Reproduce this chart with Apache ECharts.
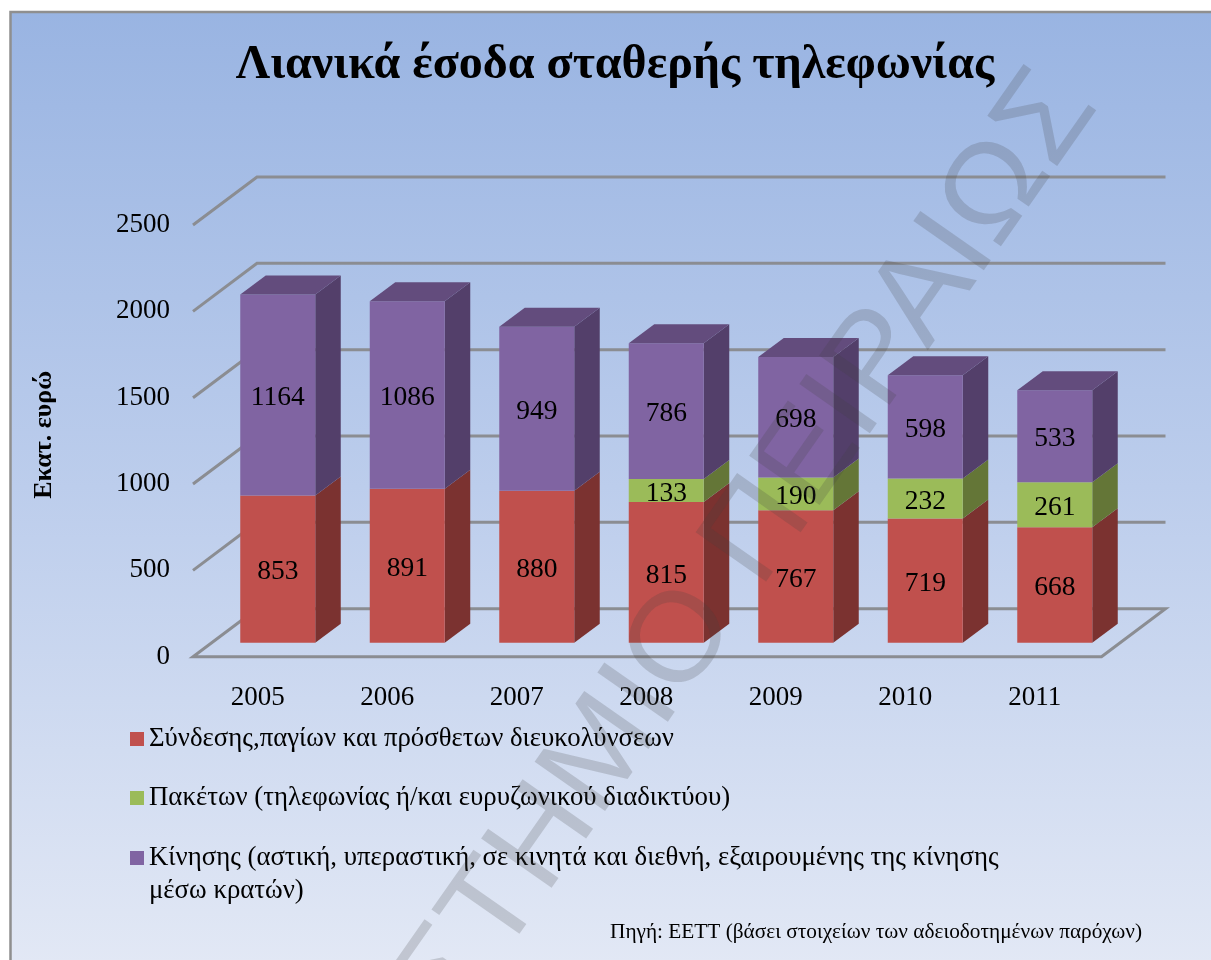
<!DOCTYPE html>
<html>
<head>
<meta charset="utf-8">
<title>Λιανικά έσοδα σταθερής τηλεφωνίας</title>
<script src="https://cdn.jsdelivr.net/npm/echarts@6/dist/echarts.min.js"></script>
<style>
    html, body { margin: 0; padding: 0; background: #fff; }
    #main { width: 1211px; height: 960px; }
</style>
</head>
<body>
<div id="main"></div>
<script>
// data
var years = ['2005', '2006', '2007', '2008', '2009', '2010', '2011'];
var connection = [853, 891, 880, 815, 767, 719, 668];
var packages = [0, 0, 0, 133, 190, 232, 261];
var traffic = [1164, 1086, 949, 786, 698, 598, 533];
var yTicks = [0, 500, 1000, 1500, 2000, 2500];

var connectionName = 'Σύνδεσης,παγίων και πρόσθετων διευκολύνσεων';
var packagesName = 'Πακέτων (τηλεφωνίας ή/και ευρυζωνικού διαδικτύου)';
var trafficName = 'Κίνησης (αστική, υπεραστική, σε κινητά και διεθνή, εξαιρουμένης της κίνησης';
var trafficNameLine2 = 'μέσω κρατών)';

var serif = '"Liberation Serif", "Times New Roman", serif';

// 3d look of the plot box and the bars, in px
var wallDx = 64, wallDy = -48;
var barShiftX = 20, barShiftY = -14;
var barWidth = 75, barDx = 25.5, barDy = -19;

var myChart = echarts.init(document.getElementById('main'));

// rows are [category index, stack start, value]
function stackRows(values, below) {
    return values.map(function (v, i) {
        var start = 0;
        below.forEach(function (b) { start += b[i]; });
        return [i, start, v];
    });
}

function barItem(sideColor, topColor) {
    return function (params, api) {
        var value = api.value(2);
        if (!value) return null;
        var i = api.value(0);
        var start = api.value(1);
        var low = api.coord([i, start]);
        var high = api.coord([i, start + value]);
        var x0 = low[0] + barShiftX - barWidth / 2;
        var x1 = x0 + barWidth;
        var y0 = low[1] + barShiftY;
        var y1 = high[1] + barShiftY;
        var children = [
            {
                type: 'polygon',
                shape: { points: [[x1, y0], [x1 + barDx, y0 + barDy], [x1 + barDx, y1 + barDy], [x1, y1]] },
                style: { fill: sideColor }
            },
            {
                type: 'rect',
                shape: { x: x0, y: y1, width: barWidth, height: y0 - y1 },
                style: { fill: api.visual('color') }
            }
        ];
        if (topColor) {
            children.push({
                type: 'polygon',
                shape: { points: [[x0, y1], [x1, y1], [x1 + barDx, y1 + barDy], [x0 + barDx, y1 + barDy]] },
                style: { fill: topColor }
            });
        }
        children.push({
            type: 'text',
            x: (x0 + x1) / 2,
            y: (y0 + y1) / 2 + 3,
            style: {
                text: String(value),
                fill: '#000',
                font: '27.5px ' + serif,
                textAlign: 'center',
                textVerticalAlign: 'middle'
            }
        });
        return { type: 'group', children: children };
    };
}

// the lines on the side wall and back wall for one tick
function wallItem(params, api) {
    var tick = api.value(0);
    var box = params.coordSys;
    var y = api.coord([0, tick])[1];
    var left = box.x;
    var right = box.x + box.width + 2;
    var lineStyle = { stroke: '#8b8d92', lineWidth: 3, fill: null };
    var points = [[left, y], [left + wallDx, y + wallDy], [right + wallDx, y + wallDy]];
    if (tick === 0) {
        points = [[left + wallDx, y + wallDy], [right + wallDx, y + wallDy], [right, y], [left, y], [left + wallDx, y + wallDy]];
    }
    return { type: 'polyline', shape: { points: points }, style: lineStyle };
}

function legendAt(name, top) {
    return {
        data: [name],
        left: 125,
        top: top,
        orient: 'vertical',
        selectedMode: false,
        icon: 'rect',
        itemWidth: 14,
        itemHeight: 14,
        textStyle: { fontFamily: serif, fontSize: 26.8, color: '#000' }
    };
}

var option = {
    animation: false,
    title: {
        text: 'Λιανικά έσοδα σταθερής τηλεφωνίας',
        left: 610,
        top: 37,
        textAlign: 'center',
        textStyle: { fontFamily: serif, fontSize: 48, fontWeight: 'bold', color: '#000' }
    },
    grid: { left: 193, top: 225, width: 906.5, height: 431.7 },
    xAxis: {
        type: 'category',
        data: years,
        axisLine: { show: false },
        axisTick: { show: false },
        axisLabel: { margin: 28, fontFamily: serif, fontSize: 27, color: '#000' }
    },
    yAxis: {
        type: 'value',
        min: 0,
        max: 2500,
        interval: 500,
        name: 'Εκατ. ευρώ',
        nameLocation: 'middle',
        nameGap: 136,
        nameRotate: 90,
        nameTextStyle: { fontFamily: serif, fontSize: 26, fontWeight: 'bold', color: '#000', padding: [0, 0, 0, 12] },
        axisLine: { show: false },
        axisTick: { show: false },
        splitLine: { show: false },
        axisLabel: {
            margin: 23,
            fontFamily: serif,
            fontSize: 27,
            color: '#000',
            padding: [6, 0, 0, 0],
            formatter: function (v) { return String(v); }
        }
    },
    legend: [
        legendAt(connectionName, 720.5),
        legendAt(packagesName, 779.5),
        legendAt(trafficName, 839.5)
    ],
    series: [
        {
            name: 'walls',
            type: 'custom',
            silent: true,
            renderItem: wallItem,
            encode: { y: 0 },
            data: yTicks.map(function (t) { return [t]; })
        },
        {
            name: connectionName,
            type: 'custom',
            itemStyle: { color: '#c0504d' },
            renderItem: barItem('#7b3230', null),
            encode: { x: 0, y: [1, 2] },
            data: stackRows(connection, [])
        },
        {
            name: packagesName,
            type: 'custom',
            itemStyle: { color: '#9bbb59' },
            renderItem: barItem('#647637', null),
            encode: { x: 0, y: [1, 2] },
            data: stackRows(packages, [connection])
        },
        {
            name: trafficName,
            type: 'custom',
            itemStyle: { color: '#8064a2' },
            renderItem: barItem('#533f6a', '#634c7d'),
            encode: { x: 0, y: [1, 2] },
            data: stackRows(traffic, [connection, packages])
        }
    ],
    graphic: [
        {
            type: 'rect',
            z: -10,
            silent: true,
            shape: { x: 10.5, y: 12, width: 1202, height: 950 },
            style: {
                fill: new echarts.graphic.LinearGradient(0, 0, 0, 1, [
                    { offset: 0, color: '#99b4e2' },
                    { offset: 0.5, color: '#bccdec' },
                    { offset: 1, color: '#e2e8f5' }
                ]),
                stroke: '#8f8f8f',
                lineWidth: 2.5
            }
        },
        {
            type: 'text',
            z: 20,
            silent: true,
            left: 149,
            top: 877,
            style: { text: trafficNameLine2, font: '26.8px ' + serif, fill: '#000' }
        },
        {
            type: 'text',
            z: 20,
            silent: true,
            left: 610,
            top: 922,
            style: { text: 'Πηγή: ΕΕΤΤ (βάσει στοιχείων των αδειοδοτημένων παρόχων)', font: '21.3px ' + serif, fill: '#000' }
        },
        {
            // watermark over the whole picture
            type: 'text',
            z: 30,
            silent: true,
            x: 1122,
            y: 122,
            rotation: 55 * Math.PI / 180,
            scaleX: 1.035,
            style: {
                text: 'ΠΑΝΕΠΙΣΤΗΜΙΟ ΠΕΙΡΑΙΩΣ',
                font: '125px "Liberation Sans", Arial, sans-serif',
                fill: 'rgba(64,64,64,0.2)',
                textAlign: 'right',
                textVerticalAlign: 'bottom'
            }
        }
    ]
};

myChart.setOption(option);
</script>
</body>
</html>
